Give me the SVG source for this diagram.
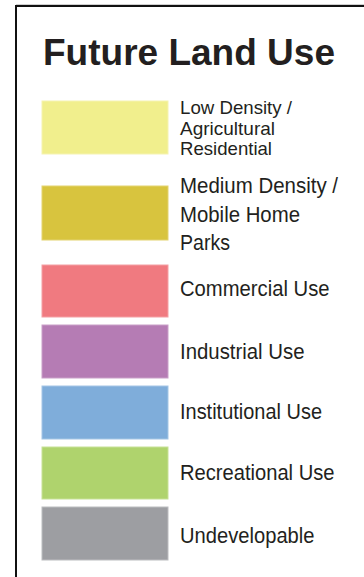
<svg xmlns="http://www.w3.org/2000/svg" width="364" height="577" viewBox="0 0 364 577">
  <style>
    .frame { stroke: #111; stroke-width: 2; fill: none; }
    .title { font-family: "Liberation Sans", Arial, sans-serif; font-weight: bold; font-size: 36.5px; fill: #231f20; }
    .label { font-family: "Liberation Sans", Arial, sans-serif; font-size: 22.5px; fill: #231f20; }
    .small { font-family: "Liberation Sans", Arial, sans-serif; font-size: 18.5px; fill: #231f20; }
    .swatch { stroke-width: 1; }
  </style>
  <rect width="364" height="577" fill="#ffffff"/>

  <!-- legend frame -->
  <g id="frame">
    <line x1="16" y1="4.5" x2="364" y2="4.5" stroke="#cfcfcf" stroke-width="1"/>
    <line class="frame" x1="15" y1="6" x2="364" y2="6"/>
    <line class="frame" x1="16" y1="5" x2="16" y2="577"/>
  </g>

  <text id="title" class="title" x="43" y="65" textLength="292" lengthAdjust="spacingAndGlyphs">Future Land Use</text>

  <g id="low-density">
    <rect class="swatch" x="42" y="101" width="126" height="53" fill="#f1ef8d" stroke="#f5f3b0"/>
    <text class="small" x="180" y="114" textLength="112" lengthAdjust="spacingAndGlyphs">Low Density /</text>
    <text class="small" x="180" y="134.5" textLength="95" lengthAdjust="spacingAndGlyphs">Agricultural</text>
    <text class="small" x="180" y="155" textLength="92" lengthAdjust="spacingAndGlyphs">Residential</text>
  </g>

  <g id="medium-density">
    <rect class="swatch" x="42" y="186" width="126" height="54" fill="#d8c43e" stroke="#e3d370"/>
    <text class="label" x="180" y="193" textLength="158" lengthAdjust="spacingAndGlyphs">Medium Density /</text>
    <text class="label" x="180" y="221.5" textLength="120" lengthAdjust="spacingAndGlyphs">Mobile Home</text>
    <text class="label" x="180" y="250" textLength="50" lengthAdjust="spacingAndGlyphs">Parks</text>
  </g>

  <g id="commercial">
    <rect class="swatch" x="42" y="265" width="126" height="52" fill="#f07a80" stroke="#f4a0a4"/>
    <text class="label" x="180" y="296" textLength="149.5" lengthAdjust="spacingAndGlyphs">Commercial Use</text>
  </g>

  <g id="industrial">
    <rect class="swatch" x="42" y="325" width="126" height="53" fill="#b57cb4" stroke="#c9a0c8"/>
    <text class="label" x="180" y="359" textLength="124.5" lengthAdjust="spacingAndGlyphs">Industrial Use</text>
  </g>

  <g id="institutional">
    <rect class="swatch" x="42" y="386" width="126" height="53" fill="#7fadda" stroke="#a5c6e5"/>
    <text class="label" x="180" y="418.5" textLength="142" lengthAdjust="spacingAndGlyphs">Institutional Use</text>
  </g>

  <g id="recreational">
    <rect class="swatch" x="42" y="447" width="126" height="52" fill="#afd36d" stroke="#c7e197"/>
    <text class="label" x="180" y="480" textLength="154.5" lengthAdjust="spacingAndGlyphs">Recreational Use</text>
  </g>

  <g id="undevelopable">
    <rect class="swatch" x="42" y="507" width="126" height="53" fill="#9d9ea2" stroke="#bcbdc0"/>
    <text class="label" x="180" y="542.5" textLength="134.5" lengthAdjust="spacingAndGlyphs">Undevelopable</text>
  </g>
</svg>
